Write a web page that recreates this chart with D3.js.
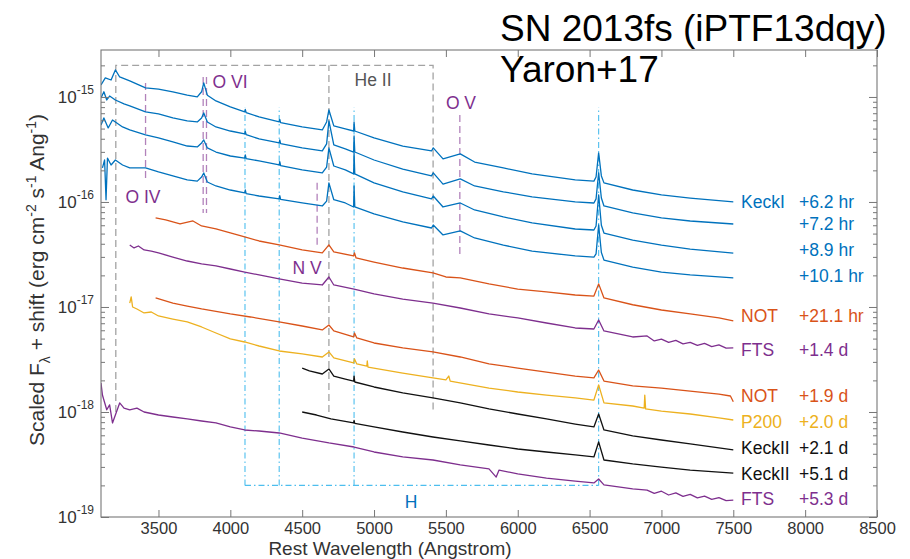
<!DOCTYPE html>
<html>
<head>
<meta charset="utf-8">
<script src="https://cdn.jsdelivr.net/npm/d3@7"></script>
<style>
  body { margin: 0; background: #fff; }
  svg { display: block; }
  text { font-family: "Liberation Sans", Arial, Helvetica, sans-serif; }
</style>
</head>
<body>
<svg id="chart" width="910" height="559"></svg>
<script>
// ---- Spectra of SN 2013fs: [rest wavelength (Angstrom), scaled F_lambda + shift] ----
const keckI_6p2hr = [
  [3100,1.30e-15],[3130,1.52e-15],[3170,1.45e-15],[3200,1.81e-15],[3230,1.55e-15],[3300,1.42e-15],
  [3410,1.22e-15],[3500,1.19e-15],[3600,1.12e-15],[3700,1.04e-15],[3770,1.00e-15],[3800,1.12e-15],
  [3815,1.36e-15],[3840,1.04e-15],[3900,9.16e-16],[4000,8.03e-16],[4100,7.20e-16],[4104,7.60e-16],
  [4110,7.10e-16],[4200,6.45e-16],[4340,5.78e-16],[4344,6.10e-16],[4350,5.70e-16],[4500,5.18e-16],
  [4640,4.85e-16],[4670,5.78e-16],[4686,7.52e-16],[4720,5.30e-16],[4800,4.96e-16],[4858,4.74e-16],
  [4861,5.78e-16],[4866,4.74e-16],[5000,4.07e-16],[5200,3.41e-16],[5400,3.06e-16],[5412,3.27e-16],
  [5480,2.57e-16],[5600,2.87e-16],[5700,2.40e-16],[5900,2.11e-16],[6100,1.85e-16],[6400,1.62e-16],
  [6530,1.58e-16],[6545,1.73e-16],[6563,2.93e-16],[6582,1.77e-16],[6600,1.52e-16],[6800,1.30e-16],
  [7000,1.17e-16],[7200,1.09e-16],[7500,1.00e-16]
];
const keckI_7p2hr = [
  [3100,9.78e-16],[3120,1.12e-15],[3140,9.36e-16],[3160,1.02e-15],[3200,9.36e-16],[3260,8.58e-16],
  [3300,8.21e-16],[3410,7.20e-16],[3500,6.89e-16],[3600,6.31e-16],[3700,5.91e-16],[3770,5.78e-16],
  [3800,6.31e-16],[3815,7.04e-16],[3840,5.78e-16],[3900,5.18e-16],[4000,4.74e-16],[4100,4.44e-16],
  [4104,4.70e-16],[4110,4.38e-16],[4200,3.98e-16],[4340,3.65e-16],[4344,3.90e-16],[4350,3.60e-16],
  [4500,3.27e-16],[4640,3.06e-16],[4670,3.57e-16],[4686,5.91e-16],[4720,3.49e-16],[4800,3.20e-16],
  [4858,2.99e-16],[4861,4.25e-16],[4866,2.99e-16],[5000,2.51e-16],[5200,2.06e-16],[5400,1.77e-16],
  [5412,1.89e-16],[5480,1.48e-16],[5600,1.66e-16],[5700,1.42e-16],[5900,1.25e-16],[6100,1.12e-16],
  [6400,1.00e-16],[6530,9.78e-17],[6545,1.07e-16],[6563,1.89e-16],[6582,1.09e-16],[6600,9.16e-17],
  [6800,7.86e-17],[7000,7.04e-17],[7200,6.59e-17],[7500,6.17e-17]
];
const keckI_8p9hr = [
  [3100,5.41e-16],[3120,6.31e-16],[3150,5.07e-16],[3180,6.04e-16],[3200,5.78e-16],[3250,5.18e-16],
  [3300,4.85e-16],[3410,4.35e-16],[3500,4.07e-16],[3600,3.73e-16],[3700,3.41e-16],[3770,3.34e-16],
  [3800,3.65e-16],[3815,3.90e-16],[3840,3.27e-16],[3900,2.99e-16],[4000,2.74e-16],[4100,2.62e-16],
  [4104,2.80e-16],[4110,2.59e-16],[4200,2.46e-16],[4340,2.25e-16],[4344,2.42e-16],[4350,2.22e-16],
  [4500,2.02e-16],[4640,1.89e-16],[4670,2.15e-16],[4686,3.27e-16],[4720,2.20e-16],[4800,2.02e-16],
  [4858,1.85e-16],[4861,2.93e-16],[4866,1.85e-16],[5000,1.52e-16],[5200,1.25e-16],[5400,1.07e-16],
  [5412,1.14e-16],[5480,8.96e-17],[5600,9.78e-17],[5700,8.39e-17],[5900,7.20e-17],[6100,6.31e-17],
  [6400,5.53e-17],[6530,5.41e-17],[6545,5.9e-17],[6563,1.17e-16],[6582,6.0e-17],[6600,5.06e-17],
  [6800,4.33e-17],[7000,3.88e-17],[7200,3.56e-17],[7500,3.26e-17]
];
const keckI_10p1hr = [
  [3110,2.11e-16],[3125,2.51e-16],[3135,1.05e-16],[3145,2.62e-16],[3170,2.25e-16],[3200,2.51e-16],
  [3250,2.25e-16],[3300,2.11e-16],[3410,2.11e-16],[3500,1.93e-16],[3600,1.77e-16],[3700,1.62e-16],
  [3770,1.58e-16],[3800,1.73e-16],[3815,1.89e-16],[3840,1.55e-16],[3900,1.42e-16],[4000,1.30e-16],
  [4100,1.22e-16],[4104,1.30e-16],[4110,1.20e-16],[4200,1.14e-16],[4340,1.07e-16],[4344,1.15e-16],
  [4350,1.06e-16],[4500,9.78e-17],[4640,9.16e-17],[4670,1.02e-16],[4686,1.52e-16],[4720,1.05e-16],
  [4800,9.78e-17],[4858,8.96e-17],[4861,1.42e-16],[4866,8.96e-17],[5000,7.69e-17],[5200,6.45e-17],
  [5400,5.65e-17],[5412,6.04e-17],[5480,4.85e-17],[5600,5.30e-17],[5700,4.54e-17],[5900,3.88e-17],
  [6100,3.41e-17],[6400,3.06e-17],[6530,2.99e-17],[6545,3.2e-17],[6563,6.04e-17],[6582,3.3e-17],
  [6600,2.80e-17],[6800,2.40e-17],[7000,2.15e-17],[7200,2.02e-17],[7500,1.89e-17]
];
const not_21p1hr = [
  [3480,7.04e-17],[3550,6.74e-17],[3650,6.17e-17],[3740,6.59e-17],[3800,5.91e-17],[3900,5.53e-17],
  [4000,5.07e-17],[4100,4.64e-17],[4200,4.25e-17],[4340,3.90e-17],[4500,3.49e-17],[4640,3.27e-17],
  [4686,3.90e-17],[4720,3.34e-17],[4858,3.06e-17],[4864,3.27e-17],[4875,2.93e-17],[5000,2.68e-17],
  [5200,2.35e-17],[5410,2.11e-17],[5500,1.93e-17],[5600,1.89e-17],[5800,1.66e-17],[6000,1.48e-17],
  [6200,1.39e-17],[6400,1.30e-17],[6530,1.27e-17],[6563,1.66e-17],[6600,1.22e-17],[6800,1.05e-17],
  [7000,9.36e-18],[7200,8.58e-18],[7400,7.86e-18],[7500,7.36e-18]
];
const fts_1p4d = [
  [3300,3.90e-17],[3330,3.65e-17],[3360,3.81e-17],[3400,3.49e-17],[3450,3.41e-17],[3500,3.27e-17],
  [3600,2.99e-17],[3700,2.74e-17],[3800,2.57e-17],[3900,2.46e-17],[4000,2.30e-17],[4100,2.15e-17],
  [4200,2.02e-17],[4340,1.85e-17],[4500,1.69e-17],[4640,1.62e-17],[4686,1.93e-17],[4720,1.62e-17],
  [4861,1.48e-17],[5000,1.33e-17],[5200,1.19e-17],[5410,1.09e-17],[5600,9.78e-18],[5800,8.58e-18],
  [6000,7.86e-18],[6200,7.04e-18],[6400,6.31e-18],[6530,6.17e-18],[6563,7.52e-18],[6600,5.91e-18],
  [6800,5.18e-18],[6900,5.30e-18],[6950,4.75e-18],[7000,4.95e-18],[7050,4.60e-18],[7100,4.80e-18],
  [7150,4.45e-18],[7200,4.60e-18],[7250,4.30e-18],[7300,4.50e-18],[7350,4.20e-18],[7400,4.35e-18],
  [7450,4.05e-18],[7500,4.07e-18]
];
const not_1p9d = [
  [3480,1.22e-17],[3600,1.09e-17],[3700,1.02e-17],[3800,9.57e-18],[4000,8.58e-18],[4140,8.03e-18],
  [4340,7.20e-18],[4500,6.59e-18],[4640,6.04e-18],[4686,6.74e-18],[4720,5.91e-18],[4858,5.18e-18],
  [4864,5.65e-18],[4880,5.07e-18],[5000,4.54e-18],[5200,4.07e-18],[5410,3.73e-18],[5600,3.34e-18],
  [5800,2.87e-18],[6000,2.62e-18],[6200,2.40e-18],[6400,2.20e-18],[6530,2.11e-18],[6563,2.51e-18],
  [6600,1.97e-18],[6800,1.77e-18],[7000,1.69e-18],[7200,1.58e-18],[7400,1.48e-18],[7480,1.42e-18],
  [7500,1.25e-18]
];
const p200_2p0d = [
  [3300,1.09e-17],[3310,1.25e-17],[3320,1.00e-17],[3350,9.57e-18],[3400,8.77e-18],[3450,8.96e-18],
  [3500,8.21e-18],[3600,7.68e-18],[3700,7.20e-18],[3800,6.45e-18],[3900,5.65e-18],[4000,4.96e-18],
  [4100,4.64e-18],[4200,4.25e-18],[4340,3.81e-18],[4500,3.57e-18],[4640,3.34e-18],[4686,3.73e-18],
  [4720,3.27e-18],[4858,2.93e-18],[4864,3.20e-18],[4880,2.87e-18],[4950,2.74e-18],[4953,3.06e-18],
  [4958,2.68e-18],[5200,2.35e-18],[5410,2.11e-18],[5500,2.02e-18],[5520,2.20e-18],[5530,1.97e-18],
  [5800,1.69e-18],[6000,1.55e-18],[6200,1.45e-18],[6400,1.36e-18],[6530,1.30e-18],[6563,1.81e-18],
  [6600,1.22e-18],[6800,1.14e-18],[6880,1.09e-18],[6884,1.45e-18],[6890,1.07e-18],[7000,1.02e-18],
  [7200,9.57e-19],[7400,8.77e-19],[7500,8.39e-19]
];
const keckII_2p1d = [
  [4500,2.62e-18],[4550,2.46e-18],[4640,2.30e-18],[4686,2.57e-18],[4720,2.20e-18],[4800,2.06e-18],
  [4858,1.97e-18],[4861,2.20e-18],[4866,1.93e-18],[5000,1.73e-18],[5200,1.52e-18],[5410,1.36e-18],
  [5600,1.22e-18],[5800,1.07e-18],[6000,9.57e-19],[6200,8.58e-19],[6400,7.68e-19],[6530,7.20e-19],
  [6563,9.57e-19],[6600,6.74e-19],[6800,5.91e-19],[7000,5.41e-19],[7200,4.96e-19],[7500,4.35e-19]
];
const keckII_5p1d = [
  [4500,1.00e-18],[4600,9.36e-19],[4700,8.58e-19],[4858,7.86e-19],[4861,8.30e-19],[4866,7.80e-19],
  [5000,7.20e-19],[5200,6.45e-19],[5410,5.78e-19],[5600,5.30e-19],[5800,4.85e-19],[6000,4.44e-19],
  [6200,4.16e-19],[6400,3.90e-19],[6530,3.73e-19],[6563,5.18e-19],[6600,3.49e-19],[6800,3.20e-19],
  [7000,2.99e-19],[7200,2.80e-19],[7500,2.62e-19]
];
const fts_5p3d = [
  [3100,1.89e-18],[3110,1.45e-18],[3120,1.30e-18],[3140,1.05e-18],[3160,1.17e-18],[3180,7.86e-19],
  [3200,9.36e-19],[3230,1.22e-18],[3260,1.09e-18],[3300,1.05e-18],[3350,1.09e-18],[3400,1.00e-18],
  [3500,9.36e-19],[3600,8.96e-19],[3700,8.58e-19],[3800,8.21e-19],[3900,7.86e-19],[4000,7.20e-19],
  [4100,6.74e-19],[4200,6.59e-19],[4340,6.31e-19],[4500,5.65e-19],[4686,5.07e-19],[4861,4.64e-19],
  [5000,4.16e-19],[5200,3.73e-19],[5410,3.49e-19],[5600,3.13e-19],[5800,2.87e-19],[5850,2.40e-19],
  [5870,2.80e-19],[6000,2.57e-19],[6200,2.35e-19],[6400,2.20e-19],[6530,2.11e-19],[6563,2.30e-19],
  [6600,2.02e-19],[6800,1.85e-19],[6900,1.80e-19],[6950,1.68e-19],[7000,1.76e-19],[7050,1.62e-19],
  [7100,1.70e-19],[7150,1.57e-19],[7200,1.64e-19],[7250,1.52e-19],[7300,1.58e-19],[7350,1.47e-19],
  [7400,1.53e-19],[7450,1.43e-19],[7500,1.45e-19]
];

const spectra     = [keckI_6p2hr, keckI_7p2hr, keckI_8p9hr, keckI_10p1hr, not_21p1hr, fts_1p4d,
                     not_1p9d, p200_2p0d, keckII_2p1d, keckII_5p1d, fts_5p3d];
const instruments = ["KeckI", "", "", "", "NOT", "FTS", "NOT", "P200", "KeckII", "KeckII", "FTS"];
const phases      = ["+6.2 hr", "+7.2 hr", "+8.9 hr", "+10.1 hr", "+21.1 hr", "+1.4 d",
                     "+1.9 d", "+2.0 d", "+2.1 d", "+5.1 d", "+5.3 d"];

// ---- Line identifications ----
const heIIWaves = [3203, 4686, 5411];          // He II, grey dashed
const heIIRange = [1e-18, 2e-15];
const hWaves    = [4102, 4340, 4861, 6563];    // Balmer series, dash-dot
const hRange    = [2e-19, 8e-16];
const ionWaves  = [3410, 3811, 3834, 4604, 5597];  // O IV, O VI doublet, N V, O V
const ionTop    = [1.36e-15, 1.55e-15, 1.55e-15, 1.52e-16, 6.74e-16];
const ionBottom = [1.55e-16, 7.86e-17, 7.86e-17, 3.90e-17, 2.93e-17];
const lineNames = ["He II", "O VI", "O IV", "N V", "O V", "H"];
const lineNameAt = [[4993, 1.45e-15], [3998, 1.39e-15], [3392, 1.12e-16], [4534, 2.35e-17],
                    [5605, 8.77e-16], [5257, 1.39e-19]];

// ---- Axes ----
const xTicks   = [3500, 4000, 4500, 5000, 5500, 6000, 6500, 7000, 7500, 8000, 8500];
const yDecades = [-19, -18, -17, -16, -15];

// ---- Styling ----
const C = {
  blue: "#0072BD", orange: "#D95319", yellow: "#EDB120", purple: "#7E2F8E",
  black: "#111111", lightBlue: "#4DBEEE", grey: "#A3A3A3", axis: "#777777", text: "#333333"
};
const seriesColor = [C.blue, C.blue, C.blue, C.blue, C.orange, C.purple, C.orange, C.yellow,
                     C.black, C.black, C.purple];
const labelNudge  = [0, 0, -3, -2, -5, 2, -6, 2, -2, 1, -1];
const lineNameColor = ["#555555", C.purple, C.purple, C.purple, C.purple, C.blue];

const svg = d3.select("#chart");
const L = 101, R = 877, T = 50, B = 517;

const x = d3.scaleLinear().domain([3100, 8500]).range([L, R]);
const y = d3.scaleLog().domain([1e-19, 2.8e-15]).range([B, T]);

svg.append("defs").append("clipPath").attr("id", "plotClip")
  .append("rect").attr("x", L).attr("y", T).attr("width", R - L).attr("height", B - T);

const plot = svg.append("g").attr("clip-path", "url(#plotClip)");

// He II box
plot.append("path")
  .attr("d", d3.line()([
    [x(heIIWaves[0]), y(heIIRange[0])], [x(heIIWaves[0]), y(heIIRange[1])],
    [x(heIIWaves[2]), y(heIIRange[1])], [x(heIIWaves[2]), y(heIIRange[0])]
  ]))
  .attr("fill", "none").attr("stroke", C.grey).attr("stroke-width", 1.3)
  .attr("stroke-dasharray", "7,4");
plot.append("line")
  .attr("x1", x(heIIWaves[1])).attr("x2", x(heIIWaves[1]))
  .attr("y1", y(heIIRange[0])).attr("y2", y(heIIRange[1]))
  .attr("stroke", C.grey).attr("stroke-width", 1.3).attr("stroke-dasharray", "7,4");

// Balmer lines
plot.selectAll(".hline").data(hWaves).join("line")
  .attr("x1", d => x(d)).attr("x2", d => x(d))
  .attr("y1", y(hRange[0])).attr("y2", y(hRange[1]))
  .attr("stroke", C.lightBlue).attr("stroke-width", 1.1).attr("stroke-dasharray", "6,3,1.5,3");
plot.append("line")
  .attr("x1", x(hWaves[0])).attr("x2", x(hWaves[hWaves.length - 1]))
  .attr("y1", y(hRange[0])).attr("y2", y(hRange[0]))
  .attr("stroke", C.lightBlue).attr("stroke-width", 1.1).attr("stroke-dasharray", "6,3,1.5,3");

// Oxygen / nitrogen lines
plot.selectAll(".ion").data(ionWaves).join("line")
  .attr("x1", d => x(d)).attr("x2", d => x(d))
  .attr("y1", (d, i) => y(ionTop[i])).attr("y2", (d, i) => y(ionBottom[i]))
  .attr("stroke", C.purple).attr("stroke-opacity", 0.6).attr("stroke-width", 1.3)
  .attr("stroke-dasharray", "7,4");

// Spectra
const line = d3.line().x(d => x(d[0])).y(d => y(d[1]));
plot.selectAll(".spec").data(spectra).join("path")
  .attr("d", line)
  .attr("fill", "none")
  .attr("stroke", (d, i) => seriesColor[i])
  .attr("stroke-width", 1.3)
  .attr("stroke-linejoin", "round");

// Line names
svg.selectAll(".lname").data(lineNames).join("text")
  .attr("x", (d, i) => x(lineNameAt[i][0]))
  .attr("y", (d, i) => y(lineNameAt[i][1]))
  .attr("dy", "0.35em")
  .attr("text-anchor", "middle")
  .attr("font-size", 17.5)
  .attr("fill", (d, i) => lineNameColor[i])
  .text(d => d);

// Spectrum labels
const lastY = (s, i) => y(s[s.length - 1][1]) + labelNudge[i];
svg.selectAll(".inst").data(spectra).join("text")
  .attr("x", 741).attr("y", lastY).attr("dy", "0.35em")
  .attr("font-size", 17.5).attr("fill", (d, i) => seriesColor[i])
  .text((d, i) => instruments[i]);
svg.selectAll(".phase").data(spectra).join("text")
  .attr("x", 799).attr("y", lastY).attr("dy", "0.35em")
  .attr("font-size", 17.5).attr("fill", (d, i) => seriesColor[i])
  .text((d, i) => phases[i]);

// Axes: ticks point inward, box drawn separately
const majorY = yDecades.map(e => Math.pow(10, e));
const minorY = [];
yDecades.slice(0, -1).forEach(e => { for (let m = 2; m <= 9; m++) minorY.push(m * Math.pow(10, e)); });
minorY.push(2e-15);

function styleAxis(g) {
  g.select(".domain").remove();
  g.selectAll(".tick line").attr("stroke", C.axis).attr("stroke-width", 1);
  g.selectAll(".tick text").attr("fill", C.text);
}

svg.append("g").attr("transform", `translate(0,${B})`)
  .call(d3.axisBottom(x).tickValues(xTicks).tickSize(-7).tickPadding(5).tickFormat(d3.format("d")))
  .call(styleAxis)
  .call(g => g.selectAll(".tick text").attr("font-size", 16.5).attr("font-family", null));
svg.append("g").attr("transform", `translate(0,${T})`)
  .call(d3.axisTop(x).tickValues(xTicks).tickSize(-7).tickFormat(""))
  .call(styleAxis);

const yLeft = svg.append("g").attr("transform", `translate(${L},0)`)
  .call(d3.axisLeft(y).tickValues(majorY).tickSize(-8).tickPadding(7).tickFormat(() => ""))
  .call(styleAxis);
yLeft.selectAll(".tick text")
  .attr("font-family", null)
  .attr("font-size", 17)
  .each(function (d) {
    const t = d3.select(this);
    t.append("tspan").text("10");
    t.append("tspan").attr("font-size", 12).attr("dy", "-0.75em").text(String(Math.round(Math.log10(d))));
  });
svg.append("g").attr("transform", `translate(${L},0)`)
  .call(d3.axisLeft(y).tickValues(minorY).tickSize(-4).tickFormat(""))
  .call(styleAxis);
svg.append("g").attr("transform", `translate(${R},0)`)
  .call(d3.axisRight(y).tickValues(majorY).tickSize(-8).tickFormat(""))
  .call(styleAxis);
svg.append("g").attr("transform", `translate(${R},0)`)
  .call(d3.axisRight(y).tickValues(minorY).tickSize(-4).tickFormat(""))
  .call(styleAxis);

svg.append("rect")
  .attr("x", L).attr("y", T).attr("width", R - L).attr("height", B - T)
  .attr("fill", "none").attr("stroke", C.axis).attr("stroke-width", 1.1);

// Axis titles
svg.append("text")
  .attr("x", 390).attr("y", 555).attr("text-anchor", "middle")
  .attr("font-size", 19).attr("fill", C.text)
  .text("Rest Wavelength (Angstrom)");

const yTitle = svg.append("text")
  .attr("transform", "translate(44,280) rotate(-90)")
  .attr("text-anchor", "middle").attr("font-size", 21).attr("fill", C.text);
yTitle.append("tspan").text("Scaled F");
yTitle.append("tspan").attr("font-size", 14).attr("dy", "0.45em").text("λ");
yTitle.append("tspan").attr("dy", "-0.3em").text(" + shift (erg cm");
yTitle.append("tspan").attr("font-size", 14).attr("dy", "-0.6em").text("-2");
yTitle.append("tspan").attr("dy", "0.4em").text(" s");
yTitle.append("tspan").attr("font-size", 14).attr("dy", "-0.6em").text("-1");
yTitle.append("tspan").attr("dy", "0.4em").text(" Ang");
yTitle.append("tspan").attr("font-size", 14).attr("dy", "-0.6em").text("-1");
yTitle.append("tspan").attr("dy", "0.4em").text(")");

// Title block
svg.append("text").attr("x", 500).attr("y", 41).attr("font-size", 37).attr("fill", "#000")
  .text("SN 2013fs (iPTF13dqy)");
svg.append("text").attr("x", 500).attr("y", 82).attr("font-size", 37).attr("fill", "#000")
  .text("Yaron+17");
</script>
</body>
</html>
